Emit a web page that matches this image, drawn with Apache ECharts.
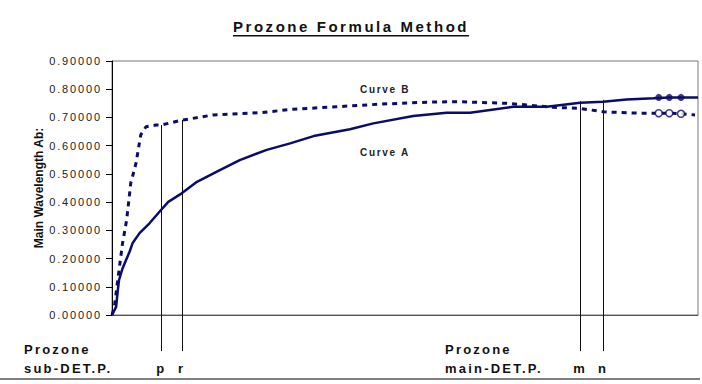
<!DOCTYPE html>
<html>
<head>
<meta charset="utf-8">
<script src="https://cdn.jsdelivr.net/npm/echarts@6/dist/echarts.min.js"></script>
<style>
  html, body { margin: 0; padding: 0; background: #fff; }
  #chart { width: 702px; height: 384px; }
  #chart svg text { letter-spacing: 0.17em; }
  #chart svg text[style*="12px"] { letter-spacing: 0; }
  #chart svg text[style*="15px"] { text-decoration: underline; }
</style>
</head>
<body>
<div id="chart"></div>
<script>
// Curve A (solid)
const curveAX = [0, 0.7, 1.0, 1.2, 1.8, 2.4, 3.0, 3.5, 4.7, 6.4, 8.1, 9.6, 11.9, 14.5, 17.9, 21.8, 26.4, 30.4, 34.4, 40.6, 44.6, 51.4, 57.1, 61.1, 68.5, 74.2, 79.9, 83.8, 87.8, 92.4, 95.1, 99.2, 100];
const curveAY = [0, 0.029, 0.089, 0.124, 0.165, 0.195, 0.224, 0.254, 0.290, 0.325, 0.366, 0.401, 0.431, 0.472, 0.508, 0.549, 0.585, 0.608, 0.634, 0.658, 0.679, 0.705, 0.717, 0.717, 0.738, 0.738, 0.752, 0.756, 0.764, 0.768, 0.771, 0.771, 0.771];
// Curve B (dashed)
const curveBX = [0, 0.4, 1.2, 1.8, 2.5, 3.2, 4.1, 4.9, 5.8, 7.5, 8.4, 11.6, 17.3, 25.3, 30.9, 38.3, 45.7, 53.7, 58.8, 67.4, 70.8, 75.3, 79.9, 83.8, 90.1, 93.3, 95.1, 97.1, 99.5];
const curveBY = [0, 0.029, 0.159, 0.254, 0.337, 0.467, 0.538, 0.638, 0.667, 0.673, 0.673, 0.689, 0.709, 0.717, 0.729, 0.738, 0.747, 0.754, 0.756, 0.750, 0.744, 0.736, 0.732, 0.720, 0.715, 0.715, 0.715, 0.713, 0.709];
// highlighted points
const dotsX = [93.3, 95.1, 97.1];
const dotsAY = [0.771, 0.771, 0.771];
const dotsBY = [0.715, 0.715, 0.713];
// vertical markers
const markerX = [8.4, 11.9, 79.9, 83.8];
const markerTop = [0.673, 0.691, 0.758, 0.762];
const markerNames = ['p', 'r', 'm', 'n'];
const markerBottom = -0.128;
// y ticks
const yMin = 0, yMax = 0.9, yStep = 0.1;

const navy = '#0b0b6b';
const zip = (xs, ys) => xs.map((x, i) => [x, ys[i]]);

const chart = echarts.init(document.getElementById('chart'), null, { renderer: 'svg' });
chart.setOption({
  animation: false,
  backgroundColor: '#fff',
  title: {
    text: 'Prozone Formula Method',
    left: 'center',
    top: 14,
    textStyle: { fontFamily: 'Liberation Sans, Arial', fontSize: 15, fontWeight: 'bold', color: '#111' }
  },
  grid: { left: 112, right: 4, top: 61, bottom: 69, show: true, borderColor: '#777', borderWidth: 1, containLabel: false },
  xAxis: {
    type: 'value', min: 0, max: 100,
    axisLine: { show: true, lineStyle: { color: '#555', width: 1 } },
    axisTick: { show: false },
    splitLine: { show: false },
    axisLabel: {
      customValues: markerX,
      formatter: v => markerNames[markerX.indexOf(v)] || '',
      margin: 47,
      fontFamily: 'Liberation Sans, Arial', fontSize: 13, fontWeight: 'bold', color: '#111'
    }
  },
  yAxis: {
    type: 'value', min: yMin, max: yMax, interval: yStep,
    name: 'Main Wavelength Ab:',
    nameLocation: 'middle', nameGap: 67, nameRotate: 90,
    nameTextStyle: { fontFamily: 'Liberation Sans, Arial', fontSize: 12, fontWeight: 'bold', color: '#111' },
    axisLine: { show: true, lineStyle: { color: '#000', width: 1 } },
    axisTick: { show: true, inside: false, length: 6, lineStyle: { color: '#000' } },
    splitLine: { show: false },
    axisLabel: {
      formatter: v => v.toFixed(5), margin: 10,
      fontFamily: 'Liberation Sans, Arial', fontSize: 11, color: '#222'
    }
  },
  series: [
    {
      type: 'line', name: 'Curve A', data: zip(curveAX, curveAY),
      showSymbol: false, lineStyle: { color: navy, width: 2.5 }, z: 3
    },
    {
      type: 'line', name: 'Curve B', data: zip(curveBX, curveBY),
      showSymbol: false, lineStyle: { color: navy, width: 3, type: [5, 5], cap: 'butt' }, z: 3
    },
    {
      type: 'scatter', data: zip(dotsX, dotsAY), symbol: 'circle', symbolSize: 7,
      itemStyle: { color: navy }, z: 4
    },
    {
      type: 'scatter', data: zip(dotsX, dotsBY), symbol: 'circle', symbolSize: 7,
      itemStyle: { color: '#fff', borderColor: navy, borderWidth: 1.5 }, z: 4
    },
    {
      type: 'custom', clip: false, z: 2,
      data: markerX.map((x, i) => [x, markerTop[i], markerBottom]),
      encode: { x: 0, y: [1, 2] },
      renderItem: (params, api) => {
        const p1 = api.coord([api.value(0), api.value(1)]);
        const p2 = api.coord([api.value(0), api.value(2)]);
        const x = Math.round(p1[0]) + 0.5;
        return { type: 'line', shape: { x1: x, y1: p1[1], x2: x, y2: p2[1] }, style: { stroke: '#111', lineWidth: 1 } };
      }
    }
  ],
  graphic: [
    { type: 'text', left: 360, top: 84, style: { text: 'Curve B', font: 'bold 10px "Liberation Sans", Arial', fill: '#222' } },
    { type: 'text', left: 360, top: 147, style: { text: 'Curve A', font: 'bold 10px "Liberation Sans", Arial', fill: '#222' } },
    { type: 'text', left: 24, top: 343, style: { text: 'Prozone', font: 'bold 13px "Liberation Sans", Arial', fill: '#111' } },
    { type: 'text', left: 24, top: 362, style: { text: 'sub-DET.P.', font: 'bold 13px "Liberation Sans", Arial', fill: '#111' } },
    { type: 'text', left: 445, top: 343, style: { text: 'Prozone', font: 'bold 13px "Liberation Sans", Arial', fill: '#111' } },
    { type: 'text', left: 445, top: 362, style: { text: 'main-DET.P.', font: 'bold 13px "Liberation Sans", Arial', fill: '#111' } },
    { type: 'line', shape: { x1: 0, y1: 379, x2: 700, y2: 379 }, style: { stroke: '#555', lineWidth: 1.5 } }
  ]
});
</script>
</body>
</html>
